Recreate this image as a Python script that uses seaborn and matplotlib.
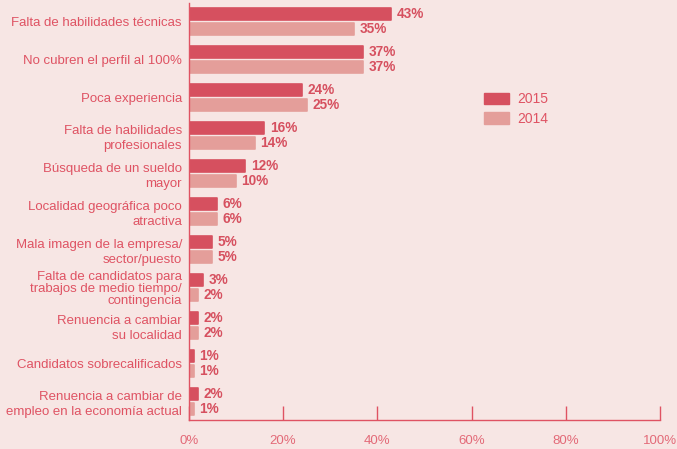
import pandas as pd
import numpy as np
import matplotlib
matplotlib.use("Agg")
import matplotlib.pyplot as plt
import seaborn as sns
from matplotlib.patches import Patch

### data
motivos = ["Falta de habilidades técnicas",
           "No cubren el perfil al 100%",
           "Poca experiencia",
           "Falta de habilidades\nprofesionales",
           "Búsqueda de un sueldo\nmayor",
           "Localidad geográfica poco\natractiva",
           "Mala imagen de la empresa/\nsector/puesto",
           "Falta de candidatos para\ntrabajos de medio tiempo/\ncontingencia",
           "Renuencia a cambiar\nsu localidad",
           "Candidatos sobrecalificados",
           "Renuencia a cambiar de\nempleo en la economía actual"]
valores_2015 = [43, 37, 24, 16, 12, 6, 5, 3, 2, 1, 2]
valores_2014 = [35, 37, 25, 14, 10, 6, 5, 2, 2, 1, 1]
anios = ["2015", "2014"]
ticks_x = [0, 20, 40, 60, 80, 100]

### colours
fondo = "#F7E6E4"
rojo = "#D6505F"
rosa = "#E49E9A"
texto = "#DF5363"
texto_eje = "#E36A78"

df = pd.DataFrame({"motivo": motivos * 2,
                   "valor": valores_2015 + valores_2014,
                   "anio": [anios[0]] * len(motivos) + [anios[1]] * len(motivos)})

sns.set_style("white")
plt.rcParams["font.family"] = ["Liberation Sans", "DejaVu Sans"]

fig = plt.figure(figsize=(6.77, 4.49), dpi=100, facecolor=fondo)
ax = fig.add_axes([0.279, 0.0646, 0.696, 0.9287])
ax.set_facecolor(fondo)

sns.barplot(data=df, y="motivo", x="valor", hue="anio", orient="h",
            palette=[rojo, rosa], saturation=1, width=0.79, gap=0.15,
            legend=False, ax=ax)

# slightly rounded bar ends
for p in ax.patches:
    p.set_edgecolor(p.get_facecolor())
    p.set_linewidth(1.2)
    p.set_joinstyle("round")

# value labels
for cont in ax.containers:
    ax.bar_label(cont, labels=[f"{v:.0f}%" for v in cont.datavalues],
                 padding=4, color=rojo, fontsize=9.8, fontweight="bold")

ax.set_xlim(0, 100)
ax.set_ylim(len(motivos) - 0.51, -0.49)
ax.set_xticks(ticks_x)
ax.set_xticklabels([f"{t}%" for t in ticks_x])
ax.set_xlabel("")
ax.set_ylabel("")

ax.tick_params(axis="x", bottom=True, direction="in", length=10, width=1,
               color=texto, pad=11, labelsize=9.5, labelcolor=texto_eje)
ax.tick_params(axis="y", left=False, length=0, pad=5, labelsize=9.5,
               labelcolor=texto)
for lbl in ax.get_yticklabels():
    n = lbl.get_text().count("\n")
    lbl.set_linespacing(1.0 if n >= 2 else 1.3)

for s in ["top", "right"]:
    ax.spines[s].set_visible(False)
for s in ["left", "bottom"]:
    ax.spines[s].set_color(texto)
    ax.spines[s].set_linewidth(1.0)

# legend
handles = [Patch(facecolor=rojo, edgecolor=rojo, label=anios[0]),
           Patch(facecolor=rosa, edgecolor=rosa, label=anios[1])]
fig.legend(handles=handles, loc="upper left", bbox_to_anchor=(0.697, 0.822),
           frameon=False, fontsize=10, labelcolor=texto,
           handlelength=1.8, handleheight=0.9, handletextpad=0.6,
           labelspacing=0.4)

fig.savefig("out.png", dpi=100, facecolor=fondo)
